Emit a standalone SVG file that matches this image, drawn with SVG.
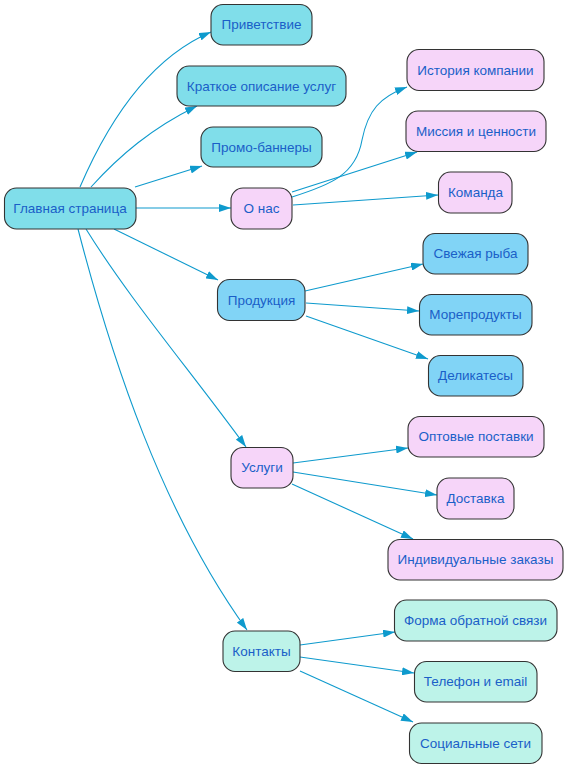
<svg xmlns="http://www.w3.org/2000/svg" width="569" height="768" viewBox="0 0 569 768">
<defs>
<marker id="ah" viewBox="0 0 12 8" refX="12" refY="4" markerWidth="12" markerHeight="8" markerUnits="userSpaceOnUse" orient="auto">
<path d="M0,0 L12,4 L0,8 Z" fill="#0E9ACD"/>
</marker>
<style>
.n rect{stroke:#333;stroke-width:1.1}
.c{fill:#80DEEA}
.b{fill:#81D4F6}
.p{fill:#F6D5F9}
.m{fill:#BDF3E9}
text{font-family:"Liberation Sans",Arial,sans-serif;font-size:13.5px;fill:#1A5FC8;text-anchor:middle}
#edges path{fill:none;stroke:#0E9ACD;stroke-width:1.1;marker-end:url(#ah)}
</style>
</defs>
<rect width="569" height="768" fill="#fff"/>
<g id="edges">
<path d="M80,187 C108,122 150,58 211,32"/>
<path d="M91,187 C120,155 152,128 197,106"/>
<path d="M135,187 L202,166"/>
<path d="M136,208 L231,208"/>
<path d="M114,229 L218,280"/>
<path d="M86,229 C130,300 190,370 246,447"/>
<path d="M78,229 C112,360 162,512 247,630"/>
<path d="M292,197 C330,185 356,175 362,140 C368,110 380,97 407,87"/>
<path d="M292,192 L417,152"/>
<path d="M293,205 L438,195"/>
<path d="M305,291 L423,264"/>
<path d="M306,303 L419,311"/>
<path d="M306,316 L428,359"/>
<path d="M293,463 L408,448"/>
<path d="M293,472 L437,495"/>
<path d="M292,484 L413,539"/>
<path d="M300,645 L395,632"/>
<path d="M300,657 L414,673"/>
<path d="M300,671 L413,722"/>
</g>
<g id="n-main" class="n"><rect class="c" x="4.5" y="188" width="131.5" height="41" rx="12"/><text x="70" y="213">Главная страница</text></g>
<g id="n-privet" class="n"><rect class="c" x="211" y="4.5" width="101" height="40.5" rx="12"/><text x="261.5" y="29">Приветствие</text></g>
<g id="n-kratko" class="n"><rect class="c" x="177" y="66" width="169" height="40" rx="12"/><text x="261.5" y="90.5">Краткое описание услуг</text></g>
<g id="n-promo" class="n"><rect class="c" x="201" y="127" width="121" height="40" rx="12"/><text x="261.5" y="151.5">Промо-баннеры</text></g>
<g id="n-onas" class="n"><rect class="p" x="231" y="188" width="61" height="41" rx="12"/><text x="261.5" y="213">О нас</text></g>
<g id="n-istoria" class="n"><rect class="p" x="407" y="49.5" width="137" height="41" rx="12"/><text x="475.5" y="74.5">История компании</text></g>
<g id="n-missia" class="n"><rect class="p" x="406" y="111" width="140" height="40.5" rx="12"/><text x="476" y="135.5">Миссия и ценности</text></g>
<g id="n-komanda" class="n"><rect class="p" x="438.5" y="172" width="73.5" height="41" rx="12"/><text x="475.5" y="197">Команда</text></g>
<g id="n-produkcia" class="n"><rect class="b" x="217.5" y="279.5" width="87.5" height="41" rx="12"/><text x="261.5" y="304.5">Продукция</text></g>
<g id="n-ryba" class="n"><rect class="b" x="423" y="233.5" width="105" height="40.5" rx="12"/><text x="475.5" y="258">Свежая рыба</text></g>
<g id="n-more" class="n"><rect class="b" x="419.5" y="294.5" width="112.5" height="40.5" rx="12"/><text x="475.5" y="319">Морепродукты</text></g>
<g id="n-delik" class="n"><rect class="b" x="428.5" y="355.5" width="94.5" height="40.5" rx="12"/><text x="475.5" y="380">Деликатесы</text></g>
<g id="n-uslugi" class="n"><rect class="p" x="231" y="447.5" width="62" height="40.5" rx="12"/><text x="262" y="472">Услуги</text></g>
<g id="n-opt" class="n"><rect class="p" x="408" y="416.5" width="136" height="40.5" rx="12"/><text x="476" y="441">Оптовые поставки</text></g>
<g id="n-dostavka" class="n"><rect class="p" x="437" y="478" width="77" height="41" rx="12"/><text x="475.5" y="503">Доставка</text></g>
<g id="n-indiv" class="n"><rect class="p" x="388" y="539.5" width="175" height="40.5" rx="12"/><text x="475.5" y="564">Индивидуальные заказы</text></g>
<g id="n-kontakty" class="n"><rect class="m" x="223" y="631" width="77" height="40.5" rx="12"/><text x="261.5" y="655.5">Контакты</text></g>
<g id="n-forma" class="n"><rect class="m" x="394.5" y="600" width="162.5" height="41" rx="12"/><text x="475.5" y="625">Форма обратной связи</text></g>
<g id="n-telefon" class="n"><rect class="m" x="414.5" y="661.5" width="122.5" height="40.5" rx="12"/><text x="475.5" y="686">Телефон и email</text></g>
<g id="n-soc" class="n"><rect class="m" x="409.5" y="723" width="132.5" height="40.5" rx="12"/><text x="475.5" y="747.5">Социальные сети</text></g>
</svg>
